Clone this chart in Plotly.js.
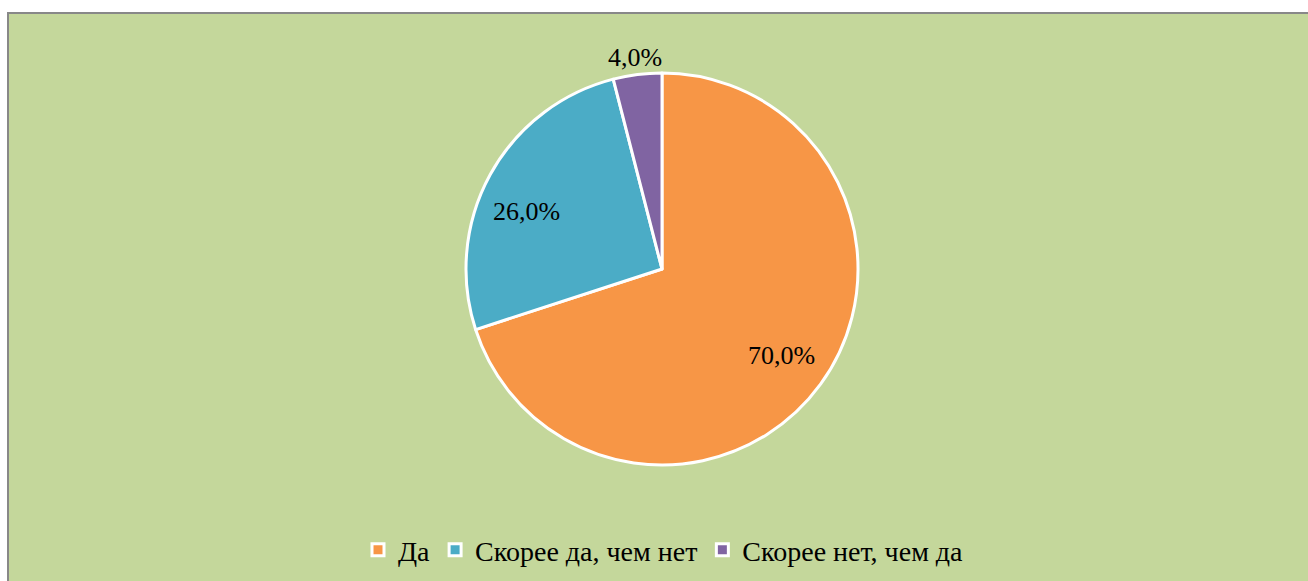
<!DOCTYPE html>
<html>
<head>
<meta charset="utf-8">
<script src="https://cdn.plot.ly/plotly-3.0.1.min.js"></script>
<style>html,body{margin:0;padding:0;background:#fff;}#chart{width:1308px;height:581px;}</style>
</head>
<body>
<div id="chart"></div>
<script>
const categories = ["Да", "Скорее да, чем нет", "Скорее нет, чем да"];
const values = [70, 26, 4];
const labelTexts = ["70,0%", "26,0%", "4,0%"];
const colors = ["#F79646", "#4BACC6", "#8064A2"];

const W = 1308, H = 581;
const CX = 662, CY = 269, R = 196;
const SERIF = "Liberation Serif";
// label placement style: radius as fraction of pie radius, angle nudge (deg)
const labelPlacement = [[0.755, 0], [0.75, -5.7], [1.09, 0]];

const data = [{
  type: "pie",
  labels: categories,
  values: values,
  textinfo: "none",
  sort: false,
  direction: "clockwise",
  rotation: 0,
  marker: {colors: colors, line: {color: "#FFFFFF", width: 3}},
  domain: {x: [(CX - 400) / W, (CX + 400) / W], y: [(H - CY - R) / H, (H - CY + R) / H]},
  hoverinfo: "label+percent"
}];

// data labels placed at the angular middle of each slice (derived from values)
const total = values.reduce((a, b) => a + b, 0);
let cum = 0;
const annotations = values.map((v, i) => {
  const mid = (cum + v / 2) / total * 2 * Math.PI + labelPlacement[i][1] * Math.PI / 180;
  cum += v;
  const frac = labelPlacement[i][0];
  const px = CX + Math.sin(mid) * R * frac;
  const py = CY - Math.cos(mid) * R * frac;
  return {
    xref: "paper", yref: "paper", x: px / W, y: 1 - py / H,
    xanchor: "center", yanchor: "middle", showarrow: false,
    text: labelTexts[i],
    font: {family: SERIF, size: 26, color: "#000"}
  };
});

const layout = {
  width: W, height: H,
  margin: {l: 0, r: 0, t: 0, b: 0},
  paper_bgcolor: "#FFFFFF",
  showlegend: true,
  legend: {
    orientation: "h", x: 358 / W, xanchor: "left", y: 1 - 550 / H, yanchor: "middle",
    font: {family: SERIF, size: 28, color: "#000"},
    bgcolor: "rgba(0,0,0,0)", traceorder: "normal", itemwidth: 30
  },
  annotations: annotations,
  shapes: [{
    type: "rect", xref: "paper", yref: "paper",
    x0: 8 / W, x1: 1.05, y0: -0.05, y1: 1 - 13 / H,
    fillcolor: "#C4D79B", line: {color: "#888888", width: 2}, layer: "below"
  }]
};

Plotly.newPlot("chart", data, layout, {displayModeBar: false, staticPlot: true});
</script>
</body>
</html>
